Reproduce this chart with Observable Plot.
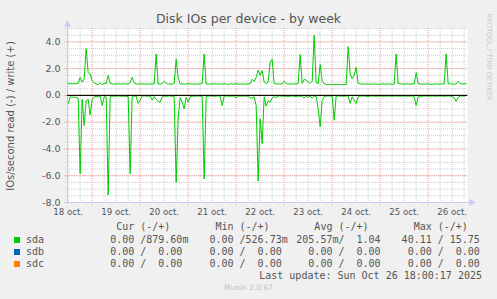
<!DOCTYPE html>
<html><head><meta charset="utf-8">
<script src="https://cdn.jsdelivr.net/npm/d3@7"></script>
<script src="https://cdn.jsdelivr.net/npm/@observablehq/plot@0.6"></script>
<style>
html,body{margin:0;padding:0;background:#F0F0F0;}
#page{position:relative;width:497px;height:299px;overflow:hidden;background:#F0F0F0;font-family:"DejaVu Sans",sans-serif;color:#555;}
#chart{position:absolute;left:0;top:0;}
.abs{position:absolute;white-space:pre;}
.mono{font-family:"DejaVu Sans Mono",monospace;font-size:10px;line-height:10px;color:#555;}
</style></head>
<body><div id="page"><div id="chart"></div></div>
<script>
// ---- data (hourly samples from 18 Oct 12:00, sda) ----
const title = "Disk IOs per device - by week";
const yLabel = "IOs/second read (-) / write (+)";
const dayLabels = ["18 oct.","19 oct.","20 oct.","21 oct.","22 oct.","23 oct.","24 oct.","25 oct.","26 oct."];
const yTicks = [-8,-6,-4,-2,0,2,4];
const sdaWrite = [
0.88,0.88,0.86,0.88,0.87,0.90,1.35,1.00,1.20,3.50,
1.70,1.60,1.10,0.95,0.85,0.80,0.95,0.80,0.90,0.88,
1.50,0.90,0.86,0.84,0.87,0.85,0.86,0.84,0.88,0.85,
0.86,0.95,1.35,0.95,0.86,0.84,0.85,0.87,0.84,0.86,
0.85,0.84,0.86,0.85,3.10,0.86,0.84,0.88,1.05,0.90,
0.85,0.86,0.84,0.90,2.70,1.30,0.86,0.85,0.84,0.86,
0.85,0.87,0.84,0.86,0.85,0.84,0.86,0.90,3.10,0.85,
0.86,0.84,0.85,0.87,0.84,0.86,0.85,0.84,0.86,0.85,
0.83,0.86,0.85,0.84,0.87,0.85,0.84,0.86,0.85,0.84,
0.86,0.88,1.20,1.05,1.35,1.90,1.50,1.85,1.00,0.88,
1.00,2.50,2.70,0.90,0.85,0.86,0.84,0.86,1.05,0.88,
0.85,0.86,0.84,0.87,0.85,0.88,3.05,0.90,1.20,1.15,
1.00,0.90,1.05,4.50,0.95,0.88,2.30,1.10,0.88,0.82,
0.80,0.83,0.81,0.80,0.82,0.79,0.81,0.80,0.82,0.81,
3.65,1.60,1.25,1.50,2.10,0.90,0.86,0.85,0.84,0.86,
0.83,0.85,0.84,0.86,0.85,0.82,0.84,0.86,0.85,0.84,
0.86,0.85,0.83,0.85,3.10,0.90,0.86,0.85,0.84,0.86,
0.85,0.84,0.86,0.85,1.70,0.88,0.86,0.85,0.84,0.86,
0.85,0.84,0.83,0.85,0.86,0.84,0.85,0.86,0.85,3.10,
0.88,0.86,0.85,0.84,0.86,1.05,0.88,0.85,0.86,0.88];
const sdaRead = [
0.60,0.10,0.15,0.12,0.15,0.20,5.85,0.30,2.25,0.40,
0.30,1.45,0.30,0.10,0.08,0.10,0.08,0.75,0.10,0.10,
7.45,0.10,0.05,0.06,0.05,0.04,0.05,0.06,0.05,0.08,
0.10,5.85,0.10,0.05,0.06,0.60,0.35,0.05,0.04,0.05,
0.06,0.05,0.35,0.08,0.30,0.45,0.50,0.10,0.05,0.06,
0.05,0.04,0.06,0.10,6.50,1.70,0.15,0.50,1.00,0.15,
0.50,0.10,0.05,0.06,0.05,0.04,0.05,0.08,6.25,0.08,
0.05,0.04,0.05,0.06,0.05,0.04,0.06,0.75,0.05,0.04,
0.05,0.06,0.05,0.04,0.20,0.05,0.06,0.05,0.04,0.05,
0.06,0.20,0.20,0.10,0.75,6.40,1.75,3.60,0.10,0.80,
0.40,0.50,0.20,0.10,0.15,0.05,0.04,0.05,0.06,0.05,
0.10,0.05,0.04,0.05,0.10,0.05,0.06,0.05,0.20,0.05,
0.15,0.05,0.20,0.05,0.06,1.00,2.35,0.40,0.10,0.05,
0.04,0.05,0.06,1.85,0.05,0.04,0.05,0.06,0.05,0.04,
0.05,0.60,0.10,0.35,0.60,0.10,0.05,0.04,0.05,0.06,
0.10,0.05,0.04,0.05,0.06,0.05,0.04,0.05,0.06,0.05,
0.04,0.05,0.06,0.05,0.04,0.05,0.06,0.05,0.04,0.05,
0.06,0.05,0.04,0.10,0.75,0.10,0.10,0.05,0.04,0.05,
0.06,0.05,0.04,0.05,0.06,0.05,0.04,0.05,0.06,0.05,
0.04,0.05,0.10,0.15,0.45,0.15,0.05,0.04,0.05,0.00];
const flatDevices = ["sdb","sdc"];            // constant zero series
const flatValues = [0, 0];                    // at range start and end
const devices = ["sda","sdb","sdc"];
const colors = ["#00CC00","#0066B3","#FF8000"];
const curRead = [0, 0, 0],      curWrite = [0.87960, 0, 0];
const minRead = [0, 0, 0],      minWrite = [0.52673, 0, 0];
const avgRead = [0.20557, 0, 0], avgWrite = [1.04, 0, 0];
const maxRead = [40.11, 0, 0],  maxWrite = [15.75, 0, 0];
const lastUpdate = "Last update: Sun Oct 26 18:00:17 2025";
const version = "Munin 2.0.67";

// ---- build ----
const start = new Date(Date.UTC(2025,9,18,11,40));
const end = new Date(Date.UTC(2025,9,26,19,40));
const t0 = Date.UTC(2025,9,18,12,0);
const rows = sdaWrite.map((w,i)=>({t:new Date(t0+i*3600e3), w, r:sdaRead[i]}));
const flatRows = flatDevices.flatMap((dev,k)=>[{dev,t:start,v:flatValues[0]},{dev,t:end,v:flatValues[1]}]);
const labelRows = dayLabels.map((label,i)=>({t:new Date(Date.UTC(2025,9,18+i,12,0)), label}));
const axisColor = "#C6CBF2";
const minorX = d3.utcHour.every(6).range(start, end);
const majorX = d3.utcDay.range(start, end);
const minorY = d3.range(-8, 5.001, 0.5);
const gridMinor = "#CDCDCD", gridMajor = "#EDB2B2";

const plot = Plot.plot({
  width: 497, height: 216,
  marginLeft: 67, marginRight: 30, marginTop: 28, marginBottom: 14,
  style: {background: "transparent", fontFamily: "DejaVu Sans, sans-serif", color: "#555"},
  x: {type: "utc", domain: [start, end], axis: null},
  y: {domain: [-8, 5], axis: null},
  marks: [
    Plot.frame({fill: "white", stroke: null}),
    Plot.ruleY(minorY, {stroke: gridMinor, strokeDasharray: "1,1", insetLeft: -2}),
    Plot.ruleX(minorX, {stroke: gridMinor, strokeDasharray: "1,1", insetBottom: -2}),
    Plot.ruleY(yTicks, {stroke: gridMajor, strokeDasharray: "1,1", insetLeft: -3}),
    Plot.ruleX(majorX, {stroke: gridMajor, strokeDasharray: "1,1", insetBottom: -3}),
    Plot.ruleX([start], {stroke: axisColor, insetTop: -3, insetBottom: -2}),
    Plot.ruleY([-8], {stroke: axisColor, insetRight: -3, insetLeft: -2}),
    Plot.dot([start], {x: d=>d, y: d=>5, symbol: "triangle", r: 2.6, fill: axisColor, stroke: null, dy: -4}),
    Plot.dot([end], {x: d=>d, y: d=>-8, symbol: "triangle", r: 2.6, rotate: 90, fill: axisColor, stroke: null, dx: 4}),
    Plot.line(flatRows, {x: "t", y: "v", z: "dev", stroke: d=>colors[devices.indexOf(d.dev)], strokeWidth: 1}),
    Plot.line(rows, {x: "t", y: "w", stroke: colors[0], strokeWidth: 1}),
    Plot.line(rows, {x: "t", y: d=>-d.r, stroke: colors[0], strokeWidth: 1}),
    Plot.ruleY([0], {stroke: "#000", strokeWidth: 1}),
    Plot.text(yTicks, {y: d=>d, text: d=>d.toFixed(1), frameAnchor: "left", textAnchor: "end", dx: -7, fontSize: 9.5, fill: "#555"}),
    Plot.text(labelRows, {x: "t", text: "label", frameAnchor: "bottom", dy: 12, fontSize: 8.6, fill: "#555"})
  ]
});
document.getElementById("chart").appendChild(plot);

const page = document.getElementById("page");
function add(txt, css, cls="abs"){const d=document.createElement("div");d.className=cls;d.textContent=txt;d.style.cssText=css;page.appendChild(d);return d;}
add(title, "left:0;width:497px;top:12px;text-align:center;font-size:12.5px;line-height:14px;color:#555;");
add(yLabel, "left:11px;top:116px;font-size:10px;line-height:10px;color:#555;transform:translate(-50%,-50%) rotate(-90deg);");
add("RRDTOOL / TOBI OETIKER", "left:488px;top:57px;font-size:6.8px;line-height:7px;color:#C8C8C8;transform:translate(-50%,-50%) rotate(90deg);");

function fmt(v){
  if (v === 0) return "  0.00 ";
  if (v < 1) return (v*1000).toFixed(2).padStart(6) + "m";
  return v.toFixed(2).padStart(6) + " ";
}
const colX = [98.1, 197.4, 296.3, 395.6];
const heads = ["Cur (-/+)","Min (-/+)","Avg (-/+)","Max (-/+)"];
heads.forEach((h,j)=>add("   "+h, `left:${colX[j]}px;top:222px;`, "abs mono"));
const stats = [[curRead,curWrite],[minRead,minWrite],[avgRead,avgWrite],[maxRead,maxWrite]];
const rowY = [235, 247, 258.7];
devices.forEach((dev,i)=>{
  const sw = document.createElement("div");
  sw.style.cssText = `position:absolute;left:14px;top:${rowY[i]+2}px;width:6px;height:6px;background:${colors[i]};`;
  page.appendChild(sw);
  add(dev, `left:26px;top:${rowY[i]}px;`, "abs mono");
  stats.forEach(([r,w],j)=>add(fmt(r[i])+"/"+fmt(w[i]), `left:${colX[j]}px;top:${rowY[i]}px;`, "abs mono"));
});
add(lastUpdate, "right:15px;top:270.5px;", "abs mono");
add(version, "left:0;width:497px;text-align:center;top:283px;font-size:7.5px;line-height:9px;color:#C0C0C0;");
</script></body></html>
